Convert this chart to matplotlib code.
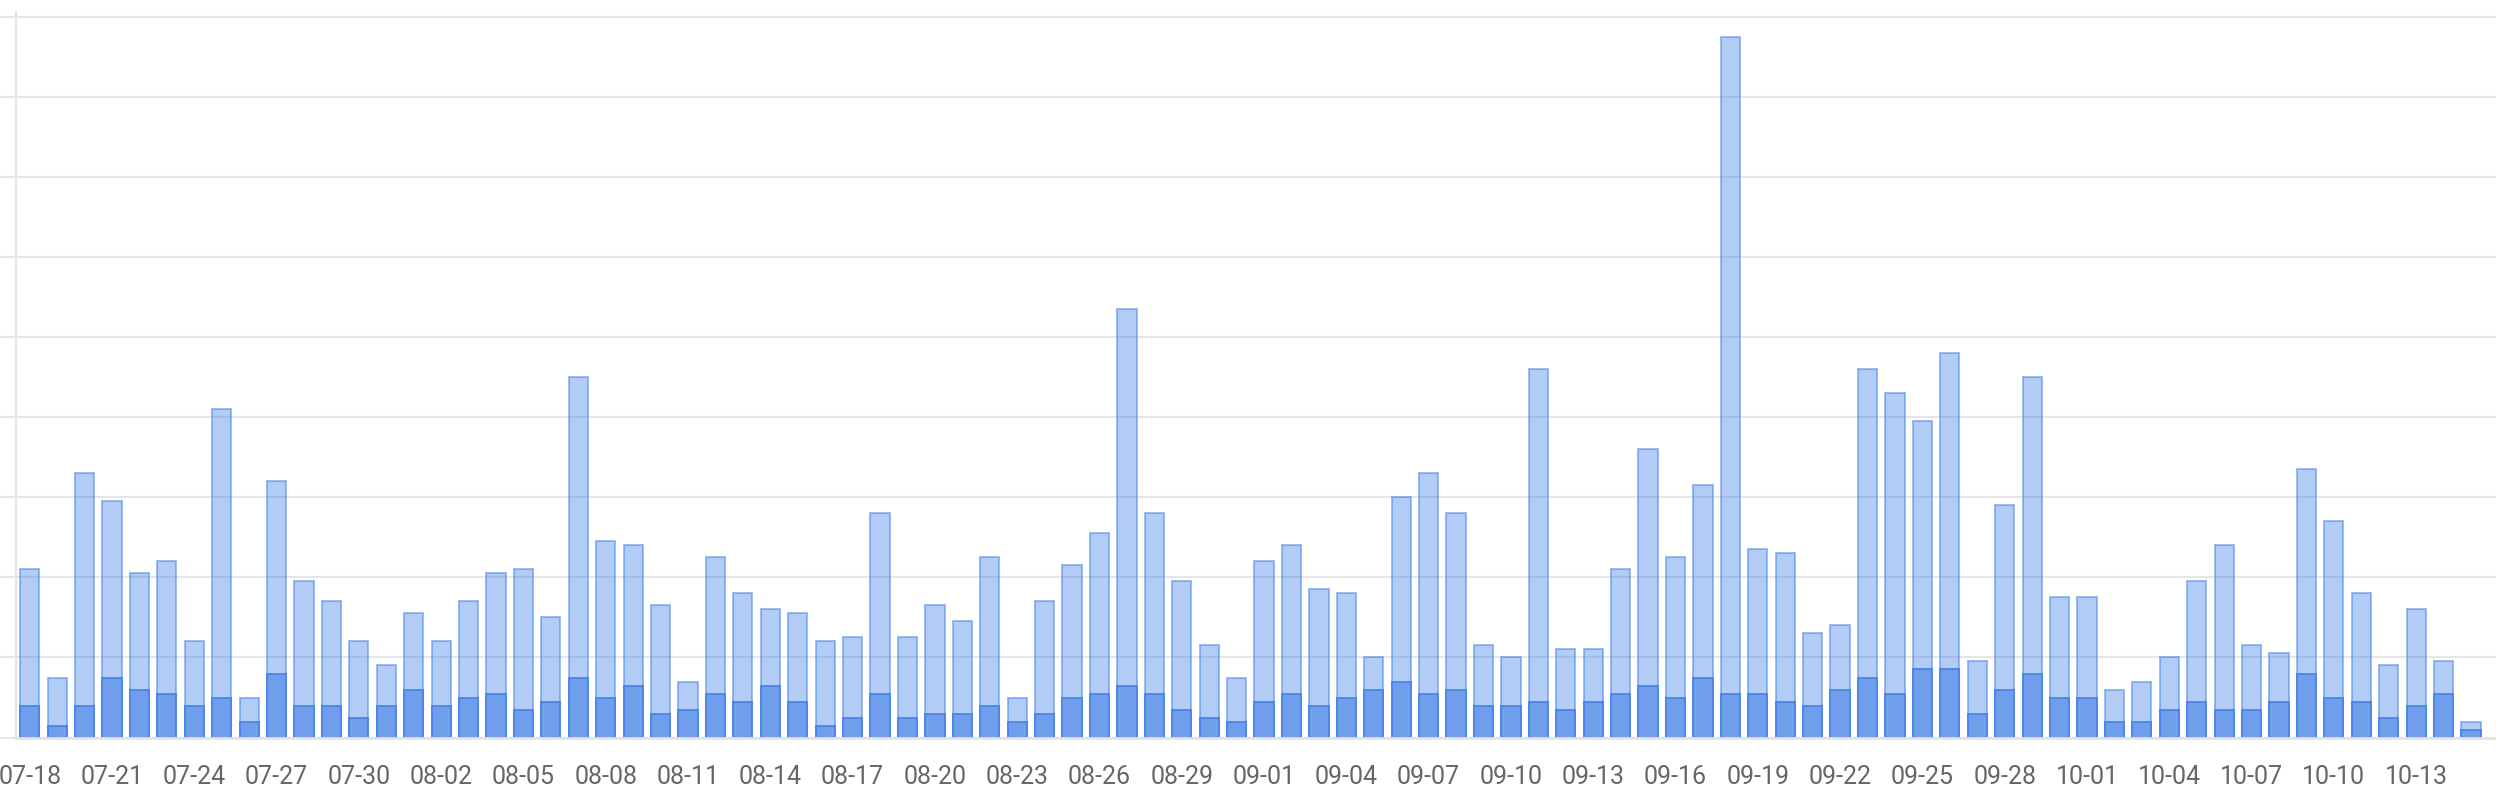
import matplotlib
matplotlib.use("Agg")
import matplotlib.pyplot as plt
import pandas as pd

# ---- data -------------------------------------------------------------
dates = [d.strftime("%m-%d") for d in pd.date_range("2024-07-18", periods=90, freq="D")]

total = [42, 15, 66, 59, 41, 44, 24, 82, 10, 64, 39, 34, 24, 18,
         31, 24, 34, 41, 42, 30, 90, 49, 48, 33, 14, 45, 36, 32, 31,
         24, 25, 56, 25, 33, 29, 45, 10, 34, 43, 51, 107, 56, 39, 23, 15,
         44, 48, 37, 36, 20, 60, 66, 56, 23, 20, 92, 22, 22, 42, 72,
         45, 63, 175, 47, 46, 26, 28, 92, 86, 79, 96, 19, 58, 90, 35,
         35, 12, 14, 20, 39, 48, 23, 21, 67, 54, 36, 18, 32, 19, 4]

part = [8, 3, 8, 15, 12, 11, 8, 10, 4, 16, 8, 8, 5, 8,
        12, 8, 10, 11, 7, 9, 15, 10, 13, 6, 7, 11, 9, 13, 9,
        3, 5, 11, 5, 6, 6, 8, 4, 6, 10, 11, 13, 11, 7, 5, 4,
        9, 11, 8, 10, 12, 14, 11, 12, 8, 8, 9, 7, 9, 11, 13,
        10, 15, 11, 11, 9, 8, 12, 15, 11, 17, 17, 6, 12, 16, 10,
        10, 4, 4, 7, 9, 7, 7, 9, 16, 10, 9, 5, 8, 11, 2]

y_ticks = [0, 20, 40, 60, 80, 100, 120, 140, 160, 180]
label_step = 3

# ---- figure -------------------------------------------------------------
W, H = 2496, 804
fig = plt.figure(figsize=(W / 100, H / 100), dpi=100)

left_px, base_px, top_px = 16, 738.6, 17.5
ymax = 181
axes_h = (base_px - top_px) * ymax / 180
ax = fig.add_axes([left_px / W, (H - base_px) / H, (W - left_px) / W, axes_h / H])

blue = (0x4a / 255, 0x86 / 255, 0xe8 / 255)
x = list(range(len(dates)))

ax.bar(x, total, width=0.7, color=blue + (0.42,), edgecolor=blue + (0.55,),
       linewidth=1.4, zorder=2)
ax.bar(x, part, width=0.7, color=blue + (0.65,), edgecolor=blue + (0.95,),
       linewidth=1.4, zorder=3)

ax.set_xlim(-0.5, -0.5 + (W - left_px) / 27.43)
ax.set_ylim(0, ymax)

ax.set_yticks(y_ticks)
ax.set_yticklabels([])
ax.yaxis.grid(True, color="#e6e6e6", linewidth=1.5, zorder=0)
ax.set_axisbelow(True)
ax.tick_params(axis="y", length=12, width=1.5, color="#e6e6e6")

ax.set_xticks(x[::label_step])
ax.set_xticklabels(dates[::label_step], fontsize=18, color="#666666",
                   family=["Roboto", "DejaVu Sans"])
ax.tick_params(axis="x", length=0, pad=19)

for s in ("top", "right"):
    ax.spines[s].set_visible(False)
ax.spines["left"].set_color("#e3e3e3")
ax.spines["left"].set_linewidth(1.5)
ax.spines["bottom"].set_color("#e3e3e3")
ax.spines["bottom"].set_linewidth(2)
ax.spines["bottom"].set_zorder(4)

fig.savefig("out.png", dpi=100)
